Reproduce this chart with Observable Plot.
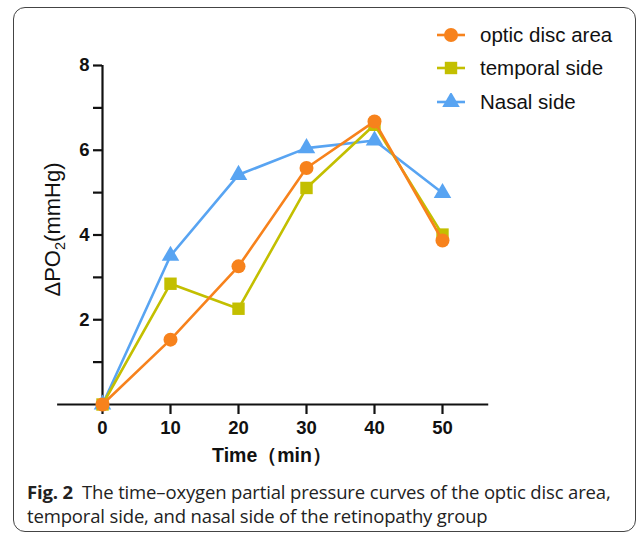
<!DOCTYPE html>
<html>
<head>
<meta charset="utf-8">
<script src="https://cdn.jsdelivr.net/npm/d3@7"></script>
<script src="https://cdn.jsdelivr.net/npm/@observablehq/plot@0.6"></script>
<style>
  html, body { margin: 0; padding: 0; background: #fff; }
  #fig { position: relative; width: 639px; height: 534px; overflow: hidden; background: #fff; }
  #frame { position: absolute; left: 13px; top: 7px; width: 623px; height: 525px; border: 1.3px solid #444; border-radius: 12px; box-sizing: border-box; }
  #chart { position: absolute; left: 0; top: 0; }
  #legend { position: absolute; left: 436px; top: 18px; font-family: "Liberation Sans", Arial, sans-serif; font-size: 20.5px; color: #111; }
  .row { display: flex; align-items: center; height: 33.5px; }
  .row svg { margin-right: 14px; }
  #caption { position: absolute; left: 27px; top: 480px; width: 610px; font-family: "Open Sans", sans-serif; font-size: 18.5px; line-height: 24px; color: #222; letter-spacing: -0.15px; white-space: nowrap; }
  #caption b { font-weight: 700; }
  #caption .rest { margin-left: 9px; }
</style>
</head>
<body>
<div id="fig">
  <div id="frame"></div>
  <div id="chart"></div>
  <div id="legend"></div>
  <div id="caption"></div>
</div>
<script>
const times = [0, 10, 20, 30, 40, 50];
const opticDisc = [0, 1.53, 3.26, 5.58, 6.68, 3.87];
const temporal = [0, 2.85, 2.26, 5.11, 6.60, 4.01];
const nasal = [0, 3.51, 5.42, 6.05, 6.23, 4.99];
const seriesNames = ["optic disc area", "temporal side", "Nasal side"];
const seriesValues = [opticDisc, temporal, nasal];
const colors = ["#f7821c", "#c3bf00", "#58a4f2"];
const symbols = ["circle", "square", "triangle"];
const symbolSizes = [7, 7, 6.5];
const xTicks = [0, 10, 20, 30, 40, 50];
const yTicks = [1, 2, 3, 4, 5, 6, 7, 8];
const yLabeled = [2, 4, 6, 8];
const xTitle = "Time（min）";
const yTitleParts = ["ΔPO", "2", "(mmHg)"];
const captionLabel = "Fig. 2";
const captionLines = ["The time–oxygen partial pressure curves of the optic disc area,", "temporal side, and nasal side of the retinopathy group"];

const rows = [];
seriesNames.forEach((s, k) => times.forEach((t, i) => rows.push({series: s, time: t, value: seriesValues[k][i]})));

const drawOrder = [2, 1, 0];
const seriesMarks = [];
for (const k of drawOrder) {
  const data = rows.filter(d => d.series === seriesNames[k]);
  seriesMarks.push(Plot.line(data, {x: "time", y: "value", stroke: colors[k], strokeWidth: 2.6}));
  seriesMarks.push(Plot.dot(data, {x: "time", y: "value", fill: colors[k], stroke: "none", symbol: () => symbols[k], r: symbolSizes[k]}));
}

const plot = Plot.plot({
  width: 639,
  height: 470,
  marginLeft: 102,
  marginRight: 197,
  marginTop: 65,
  marginBottom: 66,
  x: {domain: [0, 50]},
  y: {domain: [0, 8]},
  symbol: {type: "identity"},
  style: {fontFamily: "'Liberation Sans', Arial, sans-serif", color: "#111", background: "transparent", overflow: "visible"},
  marks: [
    Plot.axisX(xTicks, {tickSize: 10, tickPadding: 6, strokeWidth: 2.2, stroke: "#111", fontSize: 18.5, fontWeight: "bold", fill: "#111", label: null}),
    Plot.axisY(yTicks, {tickSize: 9, tickPadding: 4, strokeWidth: 2.2, stroke: "#111", fontSize: 18.5, fontWeight: "bold", fill: "#111", tickFormat: d => yLabeled.includes(d) ? String(d) : "", label: null}),
    Plot.ruleY([0], {x1: -6.6, x2: 56.8, stroke: "#111", strokeWidth: 2.2}),
    Plot.ruleX([0], {y1: 0, y2: 8, stroke: "#111", strokeWidth: 2.2}),
    ...seriesMarks
  ]
});

const svg = d3.select(plot);
const xs = plot.scale("x"), ys = plot.scale("y");
svg.append("text")
  .attr("x", (xs.apply(0) + xs.apply(50)) / 2)
  .attr("y", 462)
  .attr("text-anchor", "middle")
  .attr("font-size", 19.5)
  .attr("font-weight", "bold")
  .attr("fill", "#111")
  .text(xTitle);
const yt = svg.append("text")
  .attr("transform", `translate(60,${ys.apply(4) - 5}) rotate(-90)`)
  .attr("text-anchor", "middle")
  .attr("font-size", 22)
  .attr("fill", "#111");
yt.append("tspan").text(yTitleParts[0]);
yt.append("tspan").attr("font-size", 14.5).attr("dy", 5).text(yTitleParts[1]);
yt.append("tspan").attr("dy", -5).text(yTitleParts[2]);

document.getElementById("chart").append(plot);

// legend
const legend = d3.select("#legend");
seriesNames.forEach((s, k) => {
  const row = legend.append("div").attr("class", "row");
  const sw = row.append("svg").attr("width", 30).attr("height", 18);
  sw.append("line").attr("x1", 1).attr("x2", 29).attr("y1", 9).attr("y2", 9).attr("stroke", colors[k]).attr("stroke-width", 2.6);
  sw.append("path").attr("transform", "translate(15,9)")
    .attr("d", d3.symbol(k === 0 ? d3.symbolCircle : k === 1 ? d3.symbolSquare : d3.symbolTriangle, Math.PI * symbolSizes[k] * symbolSizes[k])())
    .attr("fill", colors[k]);
  row.append("span").text(s);
});

// caption
const cap = d3.select("#caption");
const l1 = cap.append("div");
l1.append("b").text(captionLabel);
l1.append("span").attr("class", "rest").text(captionLines[0]);
cap.append("div").append("span").text(captionLines[1]);
</script>
</body>
</html>
